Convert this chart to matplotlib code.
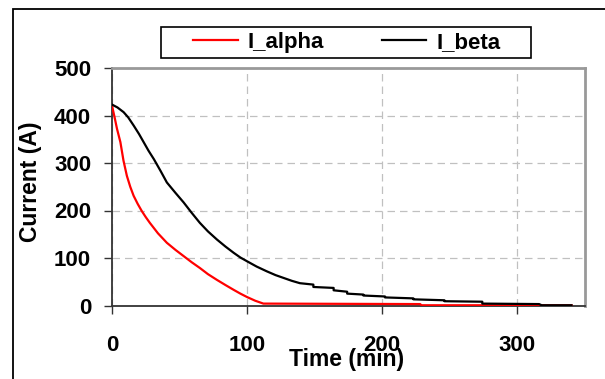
import matplotlib
matplotlib.use('Agg')
import matplotlib.pyplot as plt
from matplotlib.patches import Rectangle

# values
t_alpha = [0, 2, 3.7, 6.2, 8.5, 11, 13.5, 16, 19, 22, 25, 28, 34, 40.6, 47, 53,
           59, 65, 71, 77.6, 84, 90, 95, 99.8, 106, 112, 228, 229, 340]
i_alpha = [421, 395, 372, 344, 305, 273, 250, 231, 214, 199, 186, 174, 152, 132, 117, 104,
           91, 79, 66, 54, 43, 33, 25, 18, 10, 4, 3, 0.5, 0.5]

t_beta = [0, 4, 8.6, 12, 16, 20, 23.4, 27, 31, 36, 40.6, 47, 53, 59, 65, 71, 77.6,
          84, 90, 95, 100, 107, 114.5, 121, 127, 133, 139,
          149, 149, 164, 164, 174, 174, 186, 186, 202, 202, 223, 223, 246, 246,
          274, 274, 316, 318, 340]
i_beta = [423, 417, 407, 396, 379, 361, 344, 326, 308, 283, 259, 237, 217, 195, 174, 156, 139,
          124, 111, 101, 93, 82, 72, 64, 58, 52, 47,
          44, 39, 37, 32, 29, 25, 23, 21, 19, 17, 15, 13, 11, 9,
          8, 4, 3, 0.5, 0.5]

x_ticks = [0, 100, 200, 300]
y_ticks = [0, 100, 200, 300, 400, 500]

plt.rcParams['font.family'] = ['Liberation Sans', 'DejaVu Sans']
plt.rcParams['font.weight'] = 'bold'

fig = plt.figure(figsize=(6.05, 3.79), dpi=100)
ax = fig.add_axes([112 / 605, 1 - 305.5 / 379, 473 / 605, 237.5 / 379])

ax.plot(t_alpha, i_alpha, color='#ff0000', lw=1.6, label='I_alpha', zorder=3)
ax.plot(t_beta, i_beta, color='black', lw=1.6, label='I_beta', zorder=3)

ax.set_xlim(0, 350)
ax.set_ylim(0, 500)
ax.set_xticks(x_ticks)
ax.set_yticks(y_ticks)
ax.grid(True, color='#c0c0c0', linestyle=(0, (6, 4)), linewidth=0.9)
ax.set_axisbelow(True)

ax.tick_params(axis='both', direction='out', length=6, width=1, color='#333333',
               labelsize=16)
ax.tick_params(axis='x', pad=15)
ax.tick_params(axis='y', pad=9)
for lbl in ax.get_xticklabels() + ax.get_yticklabels():
    lbl.set_fontweight('bold')

for side in ['left', 'bottom']:
    ax.spines[side].set_color('#333333')
    ax.spines[side].set_linewidth(1.3)
for side in ['top', 'right']:
    ax.spines[side].set_color('#999999')
    ax.spines[side].set_linewidth(2)

ax.set_xlabel('Time (min)', fontsize=16.5, fontweight='bold')
ax.xaxis.set_label_coords(0.496, -0.179)
ax.set_ylabel('Current (A)', fontsize=16.5, fontweight='bold')
ax.yaxis.set_label_coords(-0.148, 0.52)

# legend box drawn separately so the entries can sit centred inside it
fig.patches.append(Rectangle((161 / 605, 1 - 58 / 379), 370 / 605, 31 / 379,
                             transform=fig.transFigure, fill=True, facecolor='white',
                             edgecolor='black', linewidth=1.2))
leg = fig.legend(loc='center', bbox_to_anchor=(347 / 605, 1 - 42.5 / 379),
                 ncol=2, frameon=False, prop={'size': 16, 'weight': 'bold'},
                 handlelength=2.0, handletextpad=0.45, columnspacing=2.6,
                 borderpad=0, borderaxespad=0)

# outer frame around the chart (only left and top edges fall inside the picture)
fig.patches.append(Rectangle((12.5 / 605, -0.2), 1.2, 1.2 - 9 / 379, transform=fig.transFigure,
                             fill=False, edgecolor='black', linewidth=1.3))

fig.savefig('out.png', dpi=100)
